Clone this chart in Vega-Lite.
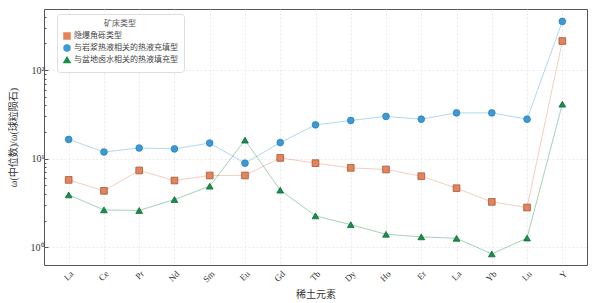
{
  "$schema": "https://vega.github.io/schema/vega-lite/v6.json",
  "width": 543,
  "height": 256,
  "autosize": {"type": "none"},
  "padding": {"left": 44, "top": 9, "right": 25, "bottom": 38},
  "background": "white",
  "config": {
    "view": {"stroke": "#555555", "strokeWidth": 1},
    "font": "Liberation Serif",
    "axis": {"labelFont": "Liberation Serif", "titleFont": "Liberation Serif, Noto Sans CJK SC", "labelColor": "#333", "titleColor": "#333", "titleFontWeight": "normal"}
  },
  "data": {"values": [
    {"el": "La", "type": "隐爆角砾类型", "v": 5.76},
    {"el": "Ce", "type": "隐爆角砾类型", "v": 4.33},
    {"el": "Pr", "type": "隐爆角砾类型", "v": 7.36},
    {"el": "Nd", "type": "隐爆角砾类型", "v": 5.67},
    {"el": "Sm", "type": "隐爆角砾类型", "v": 6.46},
    {"el": "Eu", "type": "隐爆角砾类型", "v": 6.46},
    {"el": "Gd", "type": "隐爆角砾类型", "v": 10.2},
    {"el": "Tb", "type": "隐爆角砾类型", "v": 8.9},
    {"el": "Dy", "type": "隐爆角砾类型", "v": 7.87},
    {"el": "Ho", "type": "隐爆角砾类型", "v": 7.55},
    {"el": "Er", "type": "隐爆角砾类型", "v": 6.34},
    {"el": "La ", "type": "隐爆角砾类型", "v": 4.64},
    {"el": "Yb", "type": "隐爆角砾类型", "v": 3.25},
    {"el": "Lu", "type": "隐爆角砾类型", "v": 2.81},
    {"el": "Y", "type": "隐爆角砾类型", "v": 213},
    {"el": "La", "type": "与岩浆热液相关的热液充填型", "v": 16.5},
    {"el": "Ce", "type": "与岩浆热液相关的热液充填型", "v": 11.9},
    {"el": "Pr", "type": "与岩浆热液相关的热液充填型", "v": 13.2},
    {"el": "Nd", "type": "与岩浆热液相关的热液充填型", "v": 12.9},
    {"el": "Sm", "type": "与岩浆热液相关的热液充填型", "v": 15.0},
    {"el": "Eu", "type": "与岩浆热液相关的热液充填型", "v": 8.9},
    {"el": "Gd", "type": "与岩浆热液相关的热液充填型", "v": 15.2},
    {"el": "Tb", "type": "与岩浆热液相关的热液充填型", "v": 24.1},
    {"el": "Dy", "type": "与岩浆热液相关的热液充填型", "v": 27.0},
    {"el": "Ho", "type": "与岩浆热液相关的热液充填型", "v": 30.0},
    {"el": "Er", "type": "与岩浆热液相关的热液充填型", "v": 27.9},
    {"el": "La ", "type": "与岩浆热液相关的热液充填型", "v": 32.9},
    {"el": "Yb", "type": "与岩浆热液相关的热液充填型", "v": 32.9},
    {"el": "Lu", "type": "与岩浆热液相关的热液充填型", "v": 27.9},
    {"el": "Y", "type": "与岩浆热液相关的热液充填型", "v": 355},
    {"el": "La", "type": "与盆地卤水相关的热液填充型", "v": 3.9},
    {"el": "Ce", "type": "与盆地卤水相关的热液填充型", "v": 2.64},
    {"el": "Pr", "type": "与盆地卤水相关的热液填充型", "v": 2.6},
    {"el": "Nd", "type": "与盆地卤水相关的热液填充型", "v": 3.46},
    {"el": "Sm", "type": "与盆地卤水相关的热液填充型", "v": 4.89},
    {"el": "Eu", "type": "与盆地卤水相关的热液填充型", "v": 16.2},
    {"el": "Gd", "type": "与盆地卤水相关的热液填充型", "v": 4.41},
    {"el": "Tb", "type": "与盆地卤水相关的热液填充型", "v": 2.26},
    {"el": "Dy", "type": "与盆地卤水相关的热液填充型", "v": 1.8},
    {"el": "Ho", "type": "与盆地卤水相关的热液填充型", "v": 1.4},
    {"el": "Er", "type": "与盆地卤水相关的热液填充型", "v": 1.31},
    {"el": "La ", "type": "与盆地卤水相关的热液填充型", "v": 1.26},
    {"el": "Yb", "type": "与盆地卤水相关的热液填充型", "v": 0.84},
    {"el": "Lu", "type": "与盆地卤水相关的热液填充型", "v": 1.27},
    {"el": "Y", "type": "与盆地卤水相关的热液填充型", "v": 41.3}
  ]},
  "encoding": {
    "x": {
      "field": "el", "type": "ordinal",
      "sort": ["La", "Ce", "Pr", "Nd", "Sm", "Eu", "Gd", "Tb", "Dy", "Ho", "Er", "La ", "Yb", "Lu", "Y"],
      "scale": {"type": "point", "padding": 0.7},
      "axis": {
        "title": "稀土元素", "titleFontSize": 10, "titlePadding": 6,
        "labelAngle": -45, "labelFontSize": 9, "labelPadding": 4,
        "domain": false, "ticks": false,
        "grid": true, "gridColor": "#e4e4e4", "gridDash": [2, 2], "gridWidth": 0.8
      }
    },
    "y": {
      "field": "v", "type": "quantitative",
      "scale": {"type": "log", "domain": [0.63, 490], "nice": false},
      "axis": {
        "title": "ω(中位数)/ω(球粒陨石)", "titleFontSize": 10, "titlePadding": 12,
        "values": [1, 2, 3, 4, 5, 6, 7, 8, 9, 10, 20, 30, 40, 50, 60, 70, 80, 90, 100, 200, 300, 400],
        "labelExpr": "datum.value == 1 ? '10⁰' : datum.value == 10 ? '10¹' : datum.value == 100 ? '10²' : ''",
        "labelFontSize": 10, "labelPadding": 4,
        "domain": false,
        "tickColor": "#555",
        "tickSize": {"condition": {"test": "datum.value == 1 || datum.value == 10 || datum.value == 100", "value": -4}, "value": -2},
        "grid": true, "gridColor": "#e4e4e4", "gridDash": [2, 2], "gridWidth": 0.8,
        "gridOpacity": {"condition": {"test": "datum.value == 1 || datum.value == 10 || datum.value == 100", "value": 1}, "value": 0}
      }
    },
    "color": {
      "field": "type", "type": "nominal", "title": "矿床类型",
      "scale": {"domain": ["隐爆角砾类型", "与岩浆热液相关的热液充填型", "与盆地卤水相关的热液填充型"], "range": ["#e8825a", "#3a9ad6", "#16904a"]},
      "legend": {
        "orient": "none", "legendX": 13, "legendY": 5,
        "titleAnchor": "middle", "titleFont": "Noto Sans CJK SC", "titleFontSize": 8, "titleFontWeight": "normal", "titleColor": "#555",
        "labelFont": "Noto Sans CJK SC", "labelFontSize": 8, "labelColor": "#444", "labelOffset": 3,
        "symbolSize": 36, "symbolOpacity": 1, "rowPadding": 0, "titlePadding": 4,
        "padding": 6, "strokeColor": "#dddddd", "fillColor": "white", "cornerRadius": 3
      }
    }
  },
  "layer": [
    {
      "mark": {"type": "line", "strokeWidth": 1, "opacity": 0.4}
    },
    {
      "mark": {"type": "point", "filled": true, "opacity": 1, "strokeWidth": 0.8, "size": 45},
      "encoding": {
        "stroke": {
          "field": "type", "type": "nominal", "title": "矿床类型",
          "scale": {"domain": ["隐爆角砾类型", "与岩浆热液相关的热液充填型", "与盆地卤水相关的热液填充型"], "range": ["#9b5a3c", "#2b82b8", "#0e6a34"]}
        },
        "shape": {
          "field": "type", "type": "nominal", "title": "矿床类型",
          "scale": {"domain": ["隐爆角砾类型", "与岩浆热液相关的热液充填型", "与盆地卤水相关的热液填充型"], "range": ["square", "circle", "triangle-up"]}
        }
      }
    }
  ]
}
